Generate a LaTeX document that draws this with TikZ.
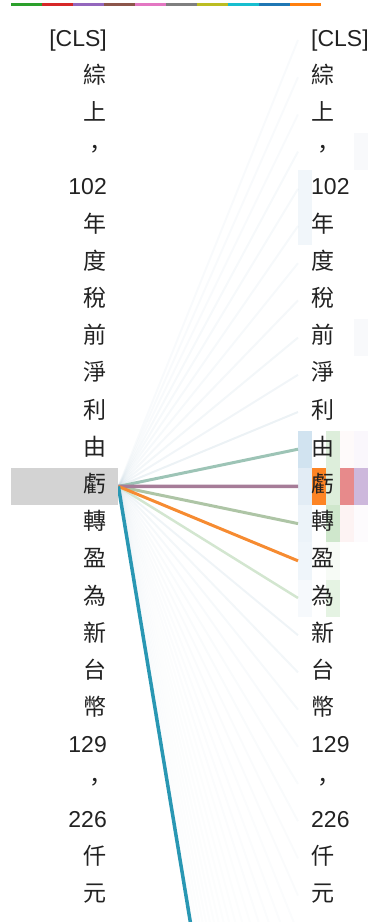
\documentclass[tikz,border=0pt]{standalone}
\usepackage{fontspec}
\setmainfont{Liberation Sans}
\newfontfamily\cjk{Noto Sans CJK TC}
\usetikzlibrary{backgrounds}
\definecolor{tokcol}{HTML}{222222}
\definecolor{hlgray}{HTML}{D3D3D3}
\definecolor{hA}{HTML}{2CA02C}\definecolor{hB}{HTML}{D62728}\definecolor{hC}{HTML}{9467BD}
\definecolor{hD}{HTML}{8C564B}\definecolor{hE}{HTML}{E377C2}\definecolor{hF}{HTML}{7F7F7F}
\definecolor{hG}{HTML}{BCBD22}\definecolor{hH}{HTML}{17BECF}\definecolor{hI}{HTML}{1F77B4}
\definecolor{hJ}{HTML}{FF7F0E}
\definecolor{faintline}{HTML}{A9C3D3}
\definecolor{lYou}{HTML}{9DC4B6}
\definecolor{lKui}{HTML}{A67C98}
\definecolor{lZhuan}{HTML}{AEC5A6}
\definecolor{lYing}{HTML}{F68B31}
\definecolor{lWei}{HTML}{D3E6D0}
\definecolor{lTeal}{HTML}{2997B3}
\begin{document}
\begin{tikzpicture}[x=1pt,y=-1pt,
  tok/.style={inner ysep=0pt, text height=16pt, text depth=4pt,
    font=\fontsize{23}{23}\selectfont, text=tokcol},
  ltok/.style={tok, inner xsep=0pt, anchor=east},
  rtok/.style={tok, inner xsep=13pt, anchor=west},
  faint/.style={draw=faintline, line width=2pt},
  strong/.style={line width=3pt},
  blk/.style={inner sep=0pt, minimum width=14pt, minimum height=37.2pt, anchor=north west}]
\useasboundingbox (0,0) rectangle (368,922);
\clip (0,0) rectangle (368,922);
% head colour bar
\foreach \c [count=\k from 0] in {hA,hB,hC,hD,hE,hF,hG,hH,hI,hJ}
  \fill[\c] (11+31*\k,3) rectangle (42+31*\k,5.5);
% highlight of the selected token
\node[fill=hlgray, inner sep=0pt, minimum width=107pt, minimum height=37.2pt, anchor=west] (hl) at (11,486.4) {};
% tokens
\foreach \t [count=\i from 0] in {{[CLS]},{\cjk 綜},{\cjk 上},{\cjk ，},{102},{\cjk 年},{\cjk 度},{\cjk 稅},{\cjk 前},{\cjk 淨},{\cjk 利},{\cjk 由},{\cjk 虧},{\cjk 轉},{\cjk 盈},{\cjk 為},{\cjk 新},{\cjk 台},{\cjk 幣},{129},{\cjk ，},{226},{\cjk 仟},{\cjk 元}}{
  \node[ltok] (L\i) at (107,40+37.2*\i) {\t};
  \node[rtok] (R\i) at (298,40+37.2*\i) {\t};
}
% tokens further down (off the picture)
\foreach \i in {24,...,40}
  \coordinate (R\i) at (298,40+37.2*\i);
\coordinate (far) at (298,1574);
\begin{scope}[on background layer]
  % attention blocks on the right
  \foreach \col/\row/\c in {
      0/4/F1F6FA, 0/5/F1F6FA, 0/11/D1E3F0, 0/12/E2ECF5, 0/13/ECF3F9, 0/14/EFF5FA, 0/15/F6F9FC,
      1/12/FD8424,
      2/11/DDEEDB, 2/12/DDEEDB, 2/13/CFE7CC, 2/14/F7FBF6, 2/15/E5F3E3,
      3/11/FEFAFA, 3/12/E78A8B, 3/13/FDF3F3,
      4/3/F8F9FB, 4/8/F8F9FB, 4/11/FAF7FC, 4/12/CDB8DC, 4/13/FDFBFD}{
    \definecolor{bc}{HTML}{\c}
    \node[blk, fill=bc] (B\col-\row) at (298+14*\col,21.4+37.2*\row) {};
  }
  % faint attention lines
  \foreach \i/\op in {0/0.08,1/0.08,2/0.08,3/0.1,4/0.1,5/0.1,6/0.1,7/0.12,8/0.14,9/0.16,10/0.22,
      16/0.18,17/0.14,18/0.1,19/0.08,20/0.07,21/0.07,22/0.06,23/0.06,
      24/0.05,25/0.05,26/0.05,27/0.05,28/0.04,29/0.04,30/0.04,31/0.04,32/0.04,33/0.04,34/0.04,35/0.04,36/0.04,37/0.04,38/0.04,39/0.04,40/0.04}
    \draw[faint, draw opacity=\op] (hl.east) -- (R\i.west);
  % strong attention lines
  \draw[strong, draw=lWei, line width=2.5pt] (hl.east) -- (R15.west);
  \draw[strong, draw=lYou] (hl.east) -- (R11.west);
  \draw[strong, draw=lZhuan] (hl.east) -- (R13.west);
  \draw[strong, draw=lKui, line width=3.5pt] (hl.east) -- (R12.west);
  \draw[strong, draw=lYing] (hl.east) -- (R14.west);
  \draw[strong, draw=lTeal, line width=3.5pt] (hl.east) -- (far);
\end{scope}
\end{tikzpicture}
\end{document}
